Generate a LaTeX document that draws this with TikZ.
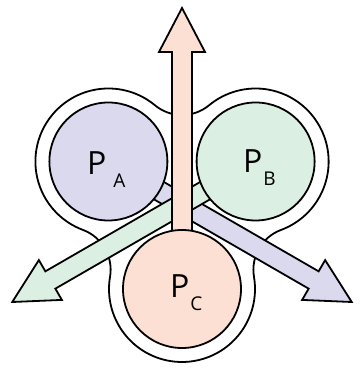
\documentclass[tikz,border=0pt]{standalone}
\usepackage{fontspec}
\setmainfont{Open Sans}
\usetikzlibrary{calc}

\definecolor{paFill}{RGB}{219,217,237}
\definecolor{pbFill}{RGB}{220,239,227}
\definecolor{pcFill}{RGB}{252,224,212}

\tikzset{
  rim/.style={draw=black, line width=1.8pt, fill=white},
  core/.style={circle, draw=black, line width=1.8pt, minimum size=118pt, inner sep=0pt},
  fat/.style={draw=black, line width=1.8pt, line join=miter},
  plabel/.style={font=\fontsize{32}{32}\selectfont, inner sep=0pt, anchor=base west},
}
\newcommand{\psub}[1]{\raisebox{-12.5pt}{\fontsize{19}{19}\selectfont #1}}

\begin{document}
\begin{tikzpicture}[x=1pt, y=1pt]
\useasboundingbox (0,0) rectangle (361,371);
% centre and the three particles
\coordinate (o) at (182,167);
\coordinate (a) at ($(o)+(150:85)$);
\coordinate (b) at ($(o)+(30:85)$);
\coordinate (c) at ($(o)+(270:85)$);

% outer shell, three rims joined by fillets
\draw[rim] ($(a)+(50.4:73)$) arc[start angle=50.4, end angle=249.6, radius=73]
  arc[start angle=69.6, end angle=-9.6, radius=42.5]
  arc[start angle=170.4, end angle=369.6, radius=73]
  arc[start angle=189.6, end angle=110.4, radius=42.5]
  arc[start angle=-69.6, end angle=129.6, radius=73]
  arc[start angle=-50.4, end angle=-129.6, radius=42.5] -- cycle;

% outgoing arrows
\draw[fat, fill=paFill, shift={(o)}, rotate=330] (-27,-10) -- (152,-10) -- (152,-23) -- (196,0) -- (152,23) -- (152,10) -- (-27,10) -- cycle;
\draw[fat, fill=pbFill, shift={(o)}, rotate=210] (-27,-10) -- (152,-10) -- (152,-23) -- (196,0) -- (152,23) -- (152,10) -- (-27,10) -- cycle;
\draw[fat, fill=pcFill, shift={(o)}, rotate=90] (-27,-10) -- (152,-10) -- (152,-23) -- (196,0) -- (152,23) -- (152,10) -- (-27,10) -- cycle;

% particles
\node[core, fill=paFill] (pa) at (a) {};
\node[core, fill=pbFill] (pb) at (b) {};
\node[core, fill=pcFill] (pc) at (c) {};
\node[plabel] (la) at ($(pa.center)+(-21.4,-13.5)$) {P\kern7pt\psub{A}};
\node[plabel] (lb) at ($(pb.center)+(-12.6,-11.5)$) {P\kern1pt\psub{B}};
\node[plabel] (lc) at ($(pc.center)+(-12,-9)$) {P\kern1pt\psub{C}};
\end{tikzpicture}
\end{document}
